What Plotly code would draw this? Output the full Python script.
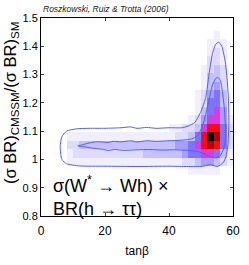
import plotly.graph_objects as go

# ---------------- data ----------------
tanb_centers = [1, 3, 5, 7, 9, 11, 13, 15, 17, 19, 21, 23, 25, 27, 29,
                31, 33, 35, 37, 39, 41, 43, 45, 47, 49, 51, 53, 55, 57, 59]
ratio_centers = [1.44, 1.41, 1.38, 1.35, 1.32, 1.29, 1.26, 1.23, 1.20,
                 1.17, 1.14, 1.11, 1.08, 1.05, 1.02, 0.99, 0.96]
# posterior density level (0-9) per cell, one string per row (top to bottom)
density_rows = [
    "00000000000000000000" + "0000000100",
    "00000000000000000000" + "0000001110",
    "00000000000000000000" + "0000001210",
    "00000000000000000000" + "0000002210",
    "00000000000000000000" + "0000012320",
    "00000000000000000000" + "0000013320",
    "00000000000000000000" + "0000013420",
    "00000000000000000000" + "0000124530",
    "00000000000000000000" + "0000125530",
    "00000000000000000000" + "0000135640",
    "00000000000000000000" + "0001246641",
    "00000000000000000000" + "1122367752",
    "00001111111111111111" + "1223579852",
    "00002233333333333333" + "3445678752",
    "00001222222222223333" + "3345566531",
    "00001111111111111111" + "1122344321",
    "00000000000000000000" + "0001111100",
]

outer_tanb = [6, 6.5, 8, 11, 15, 20, 25, 28, 30, 33, 36, 40, 44, 46, 48, 50,
              51.5, 52.5, 53.5, 54.5, 55.5, 56.5, 57.5, 58.2, 58.6, 58.7, 58.4,
              57.8, 57, 56, 55, 53, 51.5, 50, 45, 40, 30, 20, 12, 8, 6.5, 6]
outer_ratio = [1.045, 1.08, 1.10, 1.108, 1.110, 1.110, 1.112, 1.115, 1.110,
               1.113, 1.110, 1.112, 1.112, 1.118, 1.13, 1.17, 1.22, 1.30,
               1.37, 1.405, 1.415, 1.40, 1.35, 1.28, 1.20, 1.12, 1.05, 1.01,
               0.99, 0.98, 0.975, 0.982, 0.978, 0.975, 0.975, 0.976, 0.975,
               0.976, 0.977, 0.985, 1.0, 1.045]

inner_tanb = [11.5, 13, 15, 17, 19, 21, 22.5, 25, 28, 30, 33, 36, 40, 44, 47,
              49, 50.5, 51.5, 52.5, 53.5, 54.5, 55.3, 56, 56.7, 57.3, 57.6,
              57.5, 56.8, 55.8, 54.5, 53, 51, 49, 46, 42, 38, 34, 30, 26, 23,
              21, 19, 16, 14, 12, 11.5]
inner_ratio = [1.048, 1.052, 1.058, 1.062, 1.062, 1.060, 1.064, 1.062, 1.066,
               1.062, 1.066, 1.064, 1.066, 1.068, 1.072, 1.085, 1.12, 1.16,
               1.21, 1.26, 1.285, 1.29, 1.28, 1.24, 1.18, 1.12, 1.06, 1.03,
               1.01, 1.005, 1.01, 1.02, 1.028, 1.032, 1.034, 1.033, 1.035,
               1.034, 1.032, 1.035, 1.032, 1.036, 1.04, 1.044, 1.046, 1.048]

x_ticks = [0, 20, 40, 60]
y_ticks = [0.8, 0.9, 1.0, 1.1, 1.2, 1.3, 1.4, 1.5]
y_tick_labels = ["0.8", "0.9", "1", "1.1", "1.2", "1.3", "1.4", "1.5"]

# ---------------- figure ----------------
z = [[int(c) if c != "0" else None for c in row] for row in density_rows]

levels_colors = ["#ffffff", "#f1efff", "#dedbff", "#c5c0ff", "#a79fff",
                 "#7f74ff", "#d83ce0", "#ff0a0a", "#b80000", "#000000"]
colorscale = [[i / 9, c] for i, c in enumerate(levels_colors)]

fig = go.Figure()
fig.add_trace(go.Heatmap(x=tanb_centers, y=ratio_centers, z=z, zmin=0, zmax=9,
                         colorscale=colorscale, showscale=False,
                         hoverinfo="skip"))
line_style = dict(color="#4f5cff", width=1)
fig.add_trace(go.Scatter(x=outer_tanb, y=outer_ratio, mode="lines",
                         line=dict(line_style, shape="spline", smoothing=0.6),
                         showlegend=False, hoverinfo="skip"))
fig.add_trace(go.Scatter(x=inner_tanb, y=inner_ratio, mode="lines",
                         line=dict(line_style, shape="spline", smoothing=0.6),
                         showlegend=False, hoverinfo="skip"))

font_family = "Liberation Sans, Arial, Helvetica, sans-serif"
fig.update_layout(
    width=249, height=265,
    margin=dict(l=41, r=9, t=18, b=30),
    paper_bgcolor="white", plot_bgcolor="white",
    showlegend=False,
    font=dict(family=font_family, color="black"),
    xaxis=dict(range=[0, 60], tickvals=x_ticks, ticks="inside", ticklen=3,
               showline=True, linecolor="black", linewidth=1, mirror="ticks",
               showgrid=False, zeroline=False, tickfont=dict(size=12),
               ticklabeloverflow="allow", ticklabelstandoff=4,
               title=dict(text="tanβ", font=dict(size=12), standoff=9)),
    yaxis=dict(range=[0.8, 1.5], tickvals=y_ticks, ticktext=y_tick_labels,
               ticks="inside", ticklen=3, showline=True, linecolor="black",
               linewidth=1, mirror="ticks", showgrid=False, zeroline=False,
               ticklabeloverflow="allow", tickfont=dict(size=11)),
    annotations=[
        dict(text="<i>Roszkowski, Ruiz &amp; Trotta (2006)</i>",
             xref="paper", yref="paper", x=0, y=1, xanchor="left",
             yanchor="bottom", yshift=2, showarrow=False,
             font=dict(size=8.5, color="#222222")),
        dict(text="(σ BR)<sub>CMSSM</sub>/(σ BR)<sub>SM</sub>",
             xref="paper", yref="paper", x=0, y=0.5, xanchor="center",
             yanchor="middle", xshift=-30, yshift=14, textangle=-90,
             showarrow=False, font=dict(size=16.5)),
        dict(text="σ(W<sup>*</sup> → Wh) ×<br>BR(h → ττ)",
             xref="x", yref="y", x=3, y=0.960, xanchor="left",
             yanchor="top", align="left", showarrow=False,
             font=dict(size=18)),
    ],
)

fig.write_html("out.html",
               config={"displayModeBar": False},
               post_script="document.body.style.margin='0';"
                           "document.body.style.padding='0';")
